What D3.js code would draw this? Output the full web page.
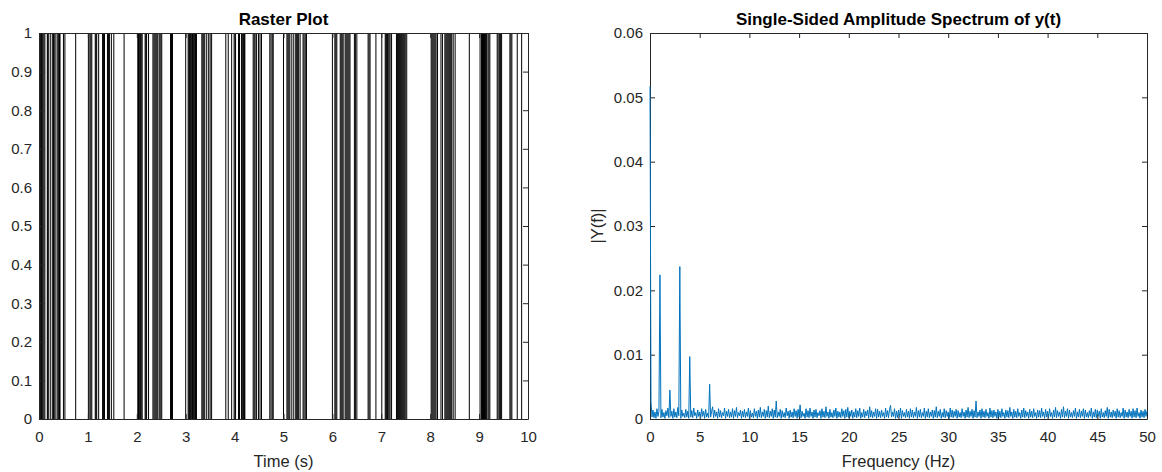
<!DOCTYPE html>
<html>
  <head>
    <meta charset="utf-8">
    <style type="text/css">
      body { margin: 0; background: #fff; }
      svg { font-family: "Liberation Sans", Arial, sans-serif; }
      .axis path, .axis line { stroke: #262626; }
      .axis text { fill: #262626; font-size: 15px; }
    </style>
    <title>Raster Plot and Amplitude Spectrum</title>
  </head>
  <body>
    <script src="https://cdn.jsdelivr.net/npm/d3@7"></script>
    <script>

/*========== Data ==========*/

// spike times of the raster plot (s)
const spikeTimes = [
  0.02, 0.035, 0.05, 0.065, 0.08, 0.1, 0.12, 0.17, 0.18, 0.2, 0.24, 0.28, 0.295, 0.31, 0.33,
  0.37, 0.39, 0.405, 0.42, 0.43, 0.5, 0.53, 0.75,
  1.01, 1.04, 1.06, 1.08, 1.15, 1.165, 1.18, 1.22, 1.3, 1.32, 1.34, 1.4, 1.42, 1.44, 1.48, 1.53, 1.74,
  2.02, 2.035, 2.05, 2.065, 2.08, 2.09, 2.11, 2.17, 2.185, 2.2, 2.24, 2.33, 2.35, 2.37, 2.39, 2.41,
  2.43, 2.46, 2.49, 2.51, 2.69, 2.71, 2.73,
  3.0, 3.05, 3.065, 3.08, 3.095, 3.11, 3.125, 3.14, 3.155, 3.17, 3.185, 3.2, 3.22, 3.33, 3.35, 3.37,
  3.39, 3.43, 3.47, 3.5, 3.53, 3.82, 3.87, 3.94, 3.99, 4.01, 4.02,
  4.08, 4.1, 4.14, 4.155, 4.17, 4.185, 4.2, 4.21, 4.38, 4.4, 4.42, 4.45, 4.49, 4.52, 4.55, 4.72,
  4.745, 4.77, 4.79,
  5.0, 5.07, 5.09, 5.11, 5.13, 5.17, 5.21, 5.25, 5.27, 5.29, 5.31, 5.34, 5.4, 5.42, 5.445, 5.47,
  6.0, 6.05, 6.07, 6.09, 6.16, 6.18, 6.2, 6.22, 6.26, 6.28, 6.3, 6.32, 6.34, 6.36, 6.45, 6.47, 6.5,
  6.73, 6.75, 6.77, 6.89,
  7.01, 7.08, 7.095, 7.11, 7.125, 7.14, 7.16, 7.18, 7.21, 7.31, 7.33, 7.35, 7.37, 7.39, 7.41, 7.43,
  7.45, 7.47, 7.49, 7.52,
  8.02, 8.04, 8.06, 8.08, 8.1, 8.12, 8.15, 8.22, 8.25, 8.3, 8.32, 8.34, 8.36, 8.38, 8.4, 8.42, 8.44,
  8.47, 8.51, 8.8,
  9.02, 9.05, 9.07, 9.09, 9.11, 9.13, 9.15, 9.18, 9.2, 9.22, 9.37, 9.39, 9.42, 9.44, 9.46, 9.63,
  9.65, 9.67, 9.78, 9.87
];

// single-sided amplitude |Y(f)| in units of 1e-4, one value per 0.1 Hz from 0 to 50 Hz
const freqStep = 0.1;
const amplitudeE4 = [
  517, 27, 3, 14, 2, 11, 1, 16, 4, 12,     // 0 Hz
  224, 2, 15, 3, 10, 1, 13, 5, 17, 2,      // 1 Hz
  45, 4, 12, 1, 16, 3, 11, 2, 18, 5,
  237, 1, 14, 4, 9, 2, 15, 3, 12, 1,
  97, 3, 13, 2, 17, 5, 10, 1, 14, 4,
  11, 2, 16, 4, 12, 1, 15, 3, 9, 2,        // 5 Hz
  54, 3, 12, 19, 2, 14, 4, 11, 1, 16,
  3, 13, 2, 10, 5, 17, 1, 12, 4, 15,
  2, 11, 3, 16, 1, 13, 4, 18, 2, 10,
  5, 14, 1, 12, 3, 15, 2, 11, 4, 17,
  1, 13, 3, 9, 2, 16, 4, 12, 1, 14,        // 10 Hz
  3, 18, 2, 11, 4, 15, 1, 13, 3, 20,
  2, 12, 4, 16, 1, 14, 3, 28, 2, 11,
  4, 15, 1, 13, 3, 10, 2, 17, 5, 12,
  1, 14, 3, 11, 2, 16, 4, 13, 1, 15,
  3, 22, 2, 12, 4, 9, 1, 16, 3, 13,        // 15 Hz
  2, 17, 4, 11, 1, 14, 3, 15, 2, 10,
  5, 13, 1, 16, 3, 12, 2, 19, 4, 11,
  1, 15, 3, 10, 2, 14, 4, 17, 1, 12,
  3, 11, 2, 16, 4, 13, 1, 15, 3, 18,
  2, 12, 4, 14, 1, 11, 3, 16, 2, 13,       // 20 Hz
  4, 17, 1, 10, 3, 15, 2, 12, 5, 14,
  1, 19, 3, 13, 2, 11, 4, 16, 1, 15,
  3, 12, 2, 14, 4, 10, 1, 17, 3, 13,
  2, 15, 21, 3, 11, 4, 16, 1, 12, 2,
  14, 3, 17, 1, 13, 4, 10, 2, 15, 3,       // 25 Hz
  12, 1, 16, 3, 14, 2, 11, 4, 18, 1,
  13, 3, 15, 2, 10, 4, 17, 1, 12, 3,
  16, 2, 11, 4, 14, 1, 13, 3, 19, 2,
  12, 4, 15, 1, 10, 3, 16, 2, 13, 4,
  11, 1, 17, 3, 14, 2, 12, 4, 15, 1,       // 30 Hz
  13, 3, 10, 2, 16, 4, 11, 1, 14, 3,
  18, 2, 12, 4, 15, 1, 13, 3, 28, 2,
  11, 4, 14, 1, 16, 3, 12, 2, 15, 4,
  10, 1, 17, 3, 13, 2, 14, 4, 11, 1,
  15, 3, 12, 2, 16, 4, 10, 1, 14, 3,       // 35 Hz
  13, 2, 18, 4, 11, 1, 15, 3, 12, 2,
  16, 4, 10, 1, 14, 3, 17, 2, 13, 4,
  11, 1, 15, 3, 12, 2, 16, 4, 10, 1,
  14, 3, 13, 2, 17, 4, 11, 1, 15, 3,
  12, 2, 16, 4, 10, 1, 14, 3, 18, 2,       // 40 Hz
  13, 4, 11, 1, 15, 3, 19, 2, 12, 4,
  16, 1, 14, 3, 10, 2, 13, 4, 17, 1,
  11, 3, 15, 2, 12, 4, 16, 1, 14, 3,
  10, 2, 13, 4, 17, 1, 11, 3, 15, 2,
  14, 4, 12, 1, 16, 3, 10, 2, 13, 4,       // 45 Hz
  18, 1, 15, 3, 11, 2, 14, 4, 12, 1,
  16, 3, 13, 2, 10, 4, 17, 1, 14, 3,
  11, 2, 15, 4, 12, 1, 16, 3, 13, 2,
  17, 4, 10, 1, 14, 3, 12, 2, 15, 4,
  13                                       // 50 Hz
];

// tick values
const rasterXTicks = [0, 1, 2, 3, 4, 5, 6, 7, 8, 9, 10];
const rasterYTicks = [0, 0.1, 0.2, 0.3, 0.4, 0.5, 0.6, 0.7, 0.8, 0.9, 1];
const specXTicks = [0, 5, 10, 15, 20, 25, 30, 35, 40, 45, 50];
const specYTicks = [0, 0.01, 0.02, 0.03, 0.04, 0.05, 0.06];

/*========== Zones ==========*/
const W = 1162, H = 472;
const tick = 5;

var svg = d3.select("body").append("svg")
    .attr("width", W)
    .attr("height", H);

// draws a boxed MATLAB-like axes, returns the inner group
function makeAxes(left, top, width, height, xScale, yScale, xTicks, yTicks, yFmt) {
  var g = svg.append("g").attr("transform", `translate(${left},${top})`);

  g.append("g").attr("class", "axis")
      .attr("transform", `translate(0,${height})`)
      .call(d3.axisBottom(xScale).tickValues(xTicks).tickSizeInner(-tick).tickSizeOuter(0).tickPadding(12)
        .tickFormat(d3.format("d")));
  g.append("g").attr("class", "axis")
      .call(d3.axisTop(xScale).tickValues(xTicks).tickSizeInner(-tick).tickSizeOuter(0).tickFormat(""));
  g.append("g").attr("class", "axis")
      .call(d3.axisLeft(yScale).tickValues(yTicks).tickSizeInner(-tick).tickSizeOuter(0).tickPadding(7)
        .tickFormat(yFmt));
  g.append("g").attr("class", "axis")
      .attr("transform", `translate(${width},0)`)
      .call(d3.axisRight(yScale).tickValues(yTicks).tickSizeInner(-tick).tickSizeOuter(0).tickFormat(""));
  return g;
}

/*========== Raster plot ==========*/
const r = {left: 39, top: 33, width: 489, height: 386};
var xR = d3.scaleLinear().domain([0, 10]).range([0, r.width]);
var yR = d3.scaleLinear().domain([0, 1]).range([r.height, 0]);

var gR = svg.append("g").attr("transform", `translate(${r.left},${r.top})`);
gR.selectAll("line.spike")
  .data(spikeTimes)
  .enter()
  .append("line")
    .attr("class", "spike")
    .attr("x1", d => xR(d))
    .attr("x2", d => xR(d))
    .attr("y1", yR(0))
    .attr("y2", yR(1))
    .style("stroke", "#000")
    .style("stroke-width", 1);

makeAxes(r.left, r.top, r.width, r.height, xR, yR, rasterXTicks, rasterYTicks,
  d => d === 0 || d === 1 ? String(d) : d3.format(".1f")(d));

svg.append("text")
    .attr("x", r.left + r.width / 2)
    .attr("y", 25)
    .attr("text-anchor", "middle")
    .attr("font-weight", "bold")
    .attr("font-size", "17px")
    .attr("fill", "#000")
  .text("Raster Plot");

svg.append("text")
    .attr("x", r.left + r.width / 2)
    .attr("y", 467)
    .attr("text-anchor", "middle")
    .attr("font-size", "16.5px")
    .attr("fill", "#262626")
  .text("Time (s)");

/*========== Spectrum ==========*/
const s = {left: 650, top: 33, width: 497, height: 386};
var xS = d3.scaleLinear().domain([0, 50]).range([0, s.width]);
var yS = d3.scaleLinear().domain([0, 0.06]).range([s.height, 0]);

makeAxes(s.left, s.top, s.width, s.height, xS, yS, specXTicks, specYTicks,
  d => d === 0 ? "0" : d3.format(".2f")(d));

// spectrum line drawn over the axes, as in the original
var gS = svg.append("g").attr("transform", `translate(${s.left},${s.top})`);
var line = d3.line()
    .x((d, i) => xS(i * freqStep))
    .y(d => yS(d / 1e4));

gS.append("path")
    .datum(amplitudeE4)
    .attr("d", line)
    .attr("fill", "none")
    .style("stroke", "#0072BD")
    .style("stroke-width", 1);

svg.append("text")
    .attr("x", s.left + s.width / 2)
    .attr("y", 25)
    .attr("text-anchor", "middle")
    .attr("font-weight", "bold")
    .attr("font-size", "17px")
    .attr("fill", "#000")
  .text("Single-Sided Amplitude Spectrum of y(t)");

svg.append("text")
    .attr("x", s.left + s.width / 2)
    .attr("y", 467)
    .attr("text-anchor", "middle")
    .attr("font-size", "16.5px")
    .attr("fill", "#262626")
  .text("Frequency (Hz)");

svg.append("text")
    .attr("transform", `translate(603,${s.top + s.height / 2}) rotate(-90)`)
    .attr("text-anchor", "middle")
    .attr("font-size", "16.5px")
    .attr("fill", "#262626")
  .text("|Y(f)|");

    </script>
  </body>
</html>
